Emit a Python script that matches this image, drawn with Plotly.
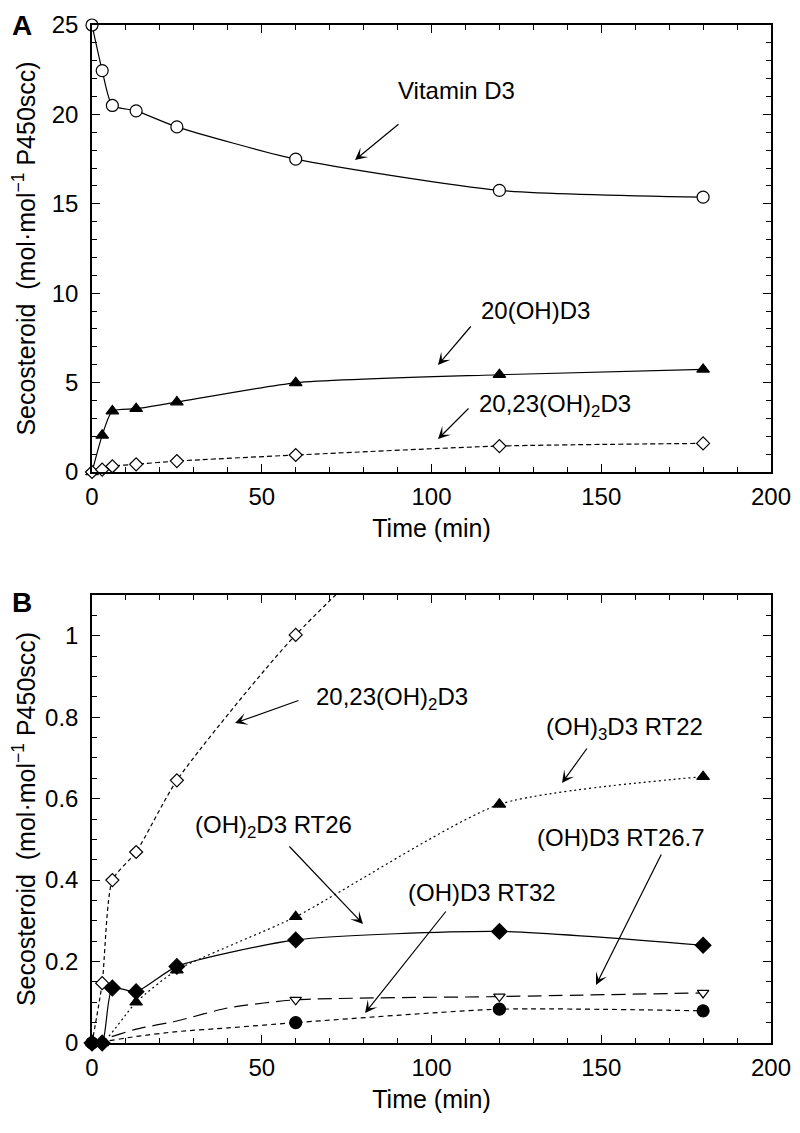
import plotly.graph_objects as go

# ---------------- data ----------------
time_min = [0, 3, 6, 13, 25, 60, 120, 180]

# Panel A
vitamin_d3 = [25.0, 22.45, 20.5, 20.2, 19.3, 17.5, 15.75, 15.37]
oh20_d3 = [0.0, 2.05, 3.41, 3.54, 3.91, 4.99, 5.44, 5.74]
oh2023_d3_a = [0.0, 0.13, 0.32, 0.43, 0.61, 0.95, 1.45, 1.60]

# Panel B
oh2023_d3_b = [0.0, 0.147, 0.40, 0.469, 0.645, 1.002, 1.45, 1.60]
time_rt22 = [0, 3, 13, 25, 60, 120, 180]
oh3_rt22 = [0.0, 0.0, 0.10, 0.179, 0.31, 0.586, 0.654]
oh2_rt26 = [0.0, 0.0, 0.135, 0.126, 0.188, 0.253, 0.274, 0.24]
time_late = [0, 60, 120, 180]
oh_rt267 = [0.0, 0.106, 0.114, 0.123]
oh_rt32 = [0.0, 0.050, 0.083, 0.079]
# smooth fitted curves for the two minor products
curve_time = [0, 3, 13, 25, 40, 60, 120, 180]
oh_rt267_curve = [0.0, 0.008, 0.034, 0.054, 0.086, 0.106, 0.114, 0.123]
oh_rt32_curve = [0.0, 0.003, 0.016, 0.028, 0.037, 0.050, 0.083, 0.079]

x_ticks = [0, 50, 100, 150, 200]

# ---------------- layout constants ----------------
OFF = 8                    # default page body margin
W, H = 800 - 2 * OFF, 1133 - 2 * OFF
PL, PR = 92, 771           # plot left/right pixel (page coords)
A_TOP, A_BOT = 25, 472
B_TOP, B_BOT = 595, 1043
A_MAX, B_MAX = 25, 1.1
FONT = "Liberation Sans, Arial, Helvetica, sans-serif"


def px_x(px):
    return (px - PL) / (PR - PL) * 200


def a_y(py):
    return (A_BOT - py) / (A_BOT - A_TOP) * A_MAX


def b_y(py):
    return (B_BOT - py) / (B_BOT - B_TOP) * B_MAX


def paper_x(px):
    return (px - PL) / (PR - PL)


def paper_y(py):
    return (B_BOT - py) / (B_BOT - A_TOP)


fig = go.Figure()

LW = 1.2


def add(x, y, xa, ya, dash, symbol, fill, size, mode="lines+markers", clip=False):
    fig.add_trace(go.Scatter(
        x=x, y=y, xaxis=xa, yaxis=ya, mode=mode,
        line=dict(color="black", width=LW, dash=dash, shape="spline", smoothing=0.6),
        marker=dict(symbol=symbol, size=size, color=fill,
                    line=dict(color="black", width=1.2)),
        cliponaxis=clip, showlegend=False, connectgaps=True,
    ))


# Panel A
add(time_min, vitamin_d3, "x", "y", "solid", "circle", "white", 12)
add(time_min, oh20_d3, "x", "y", "solid", "triangle-up", "black", 11)
add(time_min, oh2023_d3_a, "x", "y", "5px,3px", "diamond", "white", 10)

# Panel B
add(time_min, oh2023_d3_b, "x2", "y2", "4px,3px", "diamond", "white", 10, clip=True)
add(time_rt22, oh3_rt22, "x2", "y2", "2px,3px", "triangle-up", "black", 11)
add(time_min, oh2_rt26, "x2", "y2", "solid", "diamond", "black", 12)
add(curve_time, oh_rt267_curve, "x2", "y2", "14px,7px", "circle", "black", 1, mode="lines")
add(time_late, oh_rt267, "x2", "y2", "solid", "triangle-down", "white", 10, mode="markers")
add(curve_time, oh_rt32_curve, "x2", "y2", "5px,4px", "circle", "black", 1, mode="lines")
add(time_late, oh_rt32, "x2", "y2", "solid", "circle", "black", 12, mode="markers")

# ---------------- axes ----------------
plot_h = B_BOT - A_TOP
dom_a = [(B_BOT - A_BOT) / plot_h, 1.0]
dom_b = [0.0, (B_BOT - B_TOP) / plot_h]

axis_common = dict(
    showline=True, linecolor="black", linewidth=1.5, mirror="ticks",
    ticks="inside", ticklen=8, tickwidth=1.3, tickcolor="black",
    showgrid=False, zeroline=False,
    tickfont=dict(family=FONT, size=24, color="black"),
    title_font=dict(family=FONT, size=25, color="black"),
)

ytitle = "Secosteroid  (mol·mol<sup>−1</sup> P450scc)"
minor_x = dict(ticks="inside", ticklen=5, dtick=10, tickcolor="black", tickwidth=1.2)

fig.update_layout(
    width=W, height=H,
    margin=dict(l=PL - OFF, r=W - (PR - OFF), t=A_TOP - OFF, b=H - (B_BOT - OFF),
                autoexpand=False),
    plot_bgcolor="white", paper_bgcolor="white",
    font=dict(family=FONT, color="black"),
    xaxis=dict(axis_common, domain=[0, 1], anchor="y", range=[0, 200],
               tickvals=x_ticks, minor=minor_x, ticklabelstandoff=2,
               title=dict(text="Time (min)", standoff=11)),
    yaxis=dict(axis_common, domain=dom_a, anchor="x", range=[0, A_MAX], dtick=5,
               ticklabelstandoff=7,
               minor=dict(ticks="inside", ticklen=5, dtick=1,
                          tickcolor="black", tickwidth=1.2),
               title=dict(text=ytitle, standoff=15)),
    xaxis2=dict(axis_common, domain=[0, 1], anchor="y2", range=[0, 200],
                tickvals=x_ticks, minor=minor_x, ticklabelstandoff=2,
                title=dict(text="Time (min)", standoff=11)),
    yaxis2=dict(axis_common, domain=dom_b, anchor="x2", range=[0, B_MAX], dtick=0.2,
                ticklabelstandoff=7,
                minor=dict(ticks="inside", ticklen=5, dtick=0.05,
                           tickcolor="black", tickwidth=1.2),
                title=dict(text=ytitle, standoff=15)),
)

# ---------------- annotations ----------------
tfont = dict(family=FONT, size=24, color="black")

labels = [
    # text, center px x, center px y, panel
    ("Vitamin D3", 456, 90, "A"),
    ("20(OH)D3", 535, 310, "A"),
    ("20,23(OH)<sub>2</sub>D3", 555, 405, "A"),
    ("20,23(OH)<sub>2</sub>D3", 392, 698, "B"),
    ("(OH)<sub>3</sub>D3 RT22", 624, 728, "B"),
    ("(OH)<sub>2</sub>D3 RT26", 273, 826, "B"),
    ("(OH)D3 RT32", 482, 892, "B"),
    ("(OH)D3 RT26.7", 621, 837, "B"),
]
arrows = [
    # tail px, head px, panel
    ((400, 123), (355, 160), "A"),
    ((472, 325), (438, 365), "A"),
    ((470, 407), (438, 439), "A"),
    ((300, 700), (235, 723), "B"),
    ((588, 747), (562, 783), "B"),
    ((288, 845), (363, 924), "B"),
    ((447, 910), (365, 1013), "B"),
    ((662, 853), (596, 985), "B"),
]

for text, cx, cy, panel in labels:
    yfun = a_y if panel == "A" else b_y
    xr, yr = ("x", "y") if panel == "A" else ("x2", "y2")
    fig.add_annotation(x=px_x(cx), y=yfun(cy), xref=xr, yref=yr, text=text,
                       showarrow=False, font=tfont, xanchor="center", yanchor="middle")

for (tx, ty), (hx, hy), panel in arrows:
    yfun = a_y if panel == "A" else b_y
    xr, yr = ("x", "y") if panel == "A" else ("x2", "y2")
    fig.add_annotation(x=px_x(hx), y=yfun(hy), ax=px_x(tx), ay=yfun(ty),
                       xref=xr, yref=yr, axref=xr, ayref=yr, text="",
                       showarrow=True, arrowhead=3, arrowsize=1.7, arrowwidth=1.2,
                       arrowcolor="black", standoff=0, startstandoff=0)

# panel letters
for letter, lx, ly in [("A", 22, 25), ("B", 22, 602)]:
    fig.add_annotation(x=paper_x(lx), y=paper_y(ly), xref="paper", yref="paper",
                       text="<b>%s</b>" % letter, showarrow=False,
                       font=dict(family=FONT, size=28, color="black"),
                       xanchor="center", yanchor="middle")

fig.write_html("out.html")
